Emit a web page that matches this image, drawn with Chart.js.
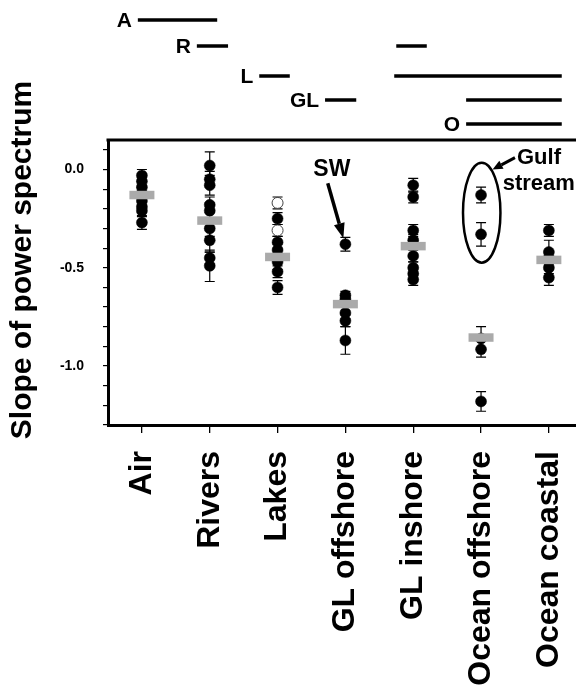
<!DOCTYPE html>
<html><head><meta charset="utf-8">
<script src="https://cdn.jsdelivr.net/npm/chart.js@4"></script>
<style>html,body{margin:0;padding:0;background:#fff;overflow:hidden}canvas{display:block}</style>
</head><body>
<canvas id="c" width="576" height="686"></canvas>
<script>
// ---------- data ----------
const categories = ['Air', 'Rivers', 'Lakes', 'GL offshore', 'GL inshore', 'Ocean offshore', 'Ocean coastal'];

const airSlopes = [-0.03, -0.06, -0.09, -0.12, -0.16, -0.19, -0.21, -0.27];
const airErrors = [0.03, 0.03, 0.03, 0.03, 0.03, 0.03, 0.03, 0.035];
const riverSlopes = [0.02, -0.05, -0.08, -0.18, -0.21, -0.30, -0.36, -0.45, -0.49];
const riverErrors = [0.07, 0.04, 0.05, 0.04, 0.04, 0.04, 0.06, 0.03, 0.08];
const lakeSlopes = [-0.25, -0.37, -0.41, -0.47, -0.52, -0.60];
const lakeErrors = [0.03, 0.03, 0.03, 0.04, 0.03, 0.035];
const lakeOpenSlopes = [-0.17, -0.31];
const lakeOpenErrors = [0.03, 0.03];
const glOffshoreSlopes = [-0.38, -0.64, -0.66, -0.73, -0.77, -0.87];
const glOffshoreErrors = [0.035, 0.02, 0.03, 0.03, 0.03, 0.07];
const glInshoreSlopes = [-0.08, -0.14, -0.31, -0.36, -0.44, -0.50, -0.53, -0.56];
const glInshoreErrors = [0.035, 0.03, 0.03, 0.03, 0.03, 0.03, 0.03, 0.03];
const oceanOffshoreSlopes = [-0.13, -0.33, -0.86, -0.915, -1.18];
const oceanOffshoreErrors = [0.04, 0.06, 0.06, 0.04, 0.05];
const oceanCoastalSlopes = [-0.31, -0.42, -0.45, -0.50, -0.55];
const oceanCoastalErrors = [0.03, 0.06, 0.03, 0.03, 0.04];
const meanSlopes = [-0.13, -0.26, -0.445, -0.685, -0.39, -0.855, -0.46];

const yTickValues = [-1.3, -1.2, -1.1, -1.0, -0.9, -0.8, -0.7, -0.6, -0.5, -0.4, -0.3, -0.2, -0.1, 0.0, 0.1];
const yTickLabels = {'0': '0.0', '-0.5': '-0.5', '-1': '-1.0'};

// top key: label and spans (in category units)
const keyLabels = ['A', 'R', 'L', 'GL', 'O'];
const keySpans = [
  [[-0.06, 1.11]],
  [[0.81, 1.27], [3.75, 4.20]],
  [[1.73, 2.18], [3.72, 6.19]],
  [[2.70, 3.16], [4.78, 6.19]],
  [[4.78, 6.19]]
];
const keyRowsPx = [20, 46, 76, 100, 124];

const yTitle = 'Slope of power spectrum';
const swLabel = 'SW';
const gulfLabel = ['Gulf', 'stream'];

// ---------- build ----------
const FONT = '"Liberation Sans", Arial, Helvetica, sans-serif';
const groups = [
  {vals: airSlopes, errs: airErrors, idx: 0, open: false},
  {vals: riverSlopes, errs: riverErrors, idx: 1, open: false},
  {vals: lakeSlopes, errs: lakeErrors, idx: 2, open: false},
  {vals: lakeOpenSlopes, errs: lakeOpenErrors, idx: 2, open: true},
  {vals: glOffshoreSlopes, errs: glOffshoreErrors, idx: 3, open: false},
  {vals: glInshoreSlopes, errs: glInshoreErrors, idx: 4, open: false},
  {vals: oceanOffshoreSlopes, errs: oceanOffshoreErrors, idx: 5, open: false},
  {vals: oceanCoastalSlopes, errs: oceanCoastalErrors, idx: 6, open: false}
];

const datasets = [{
  label: 'mean',
  data: meanSlopes.map((v, i) => ({x: i, y: v})),
  pointStyle: 'line',
  pointRadius: 12.5,
  pointBorderWidth: 8.5,
  pointBorderColor: '#aaaaaa',
  pointBackgroundColor: '#aaaaaa',
  order: 0
}];
groups.forEach(g => {
  datasets.push({
    label: categories[g.idx],
    data: g.vals.map(v => ({x: g.idx, y: v})),
    errors: g.errs,
    pointStyle: 'circle',
    pointRadius: 5.5,
    pointBackgroundColor: g.open ? '#ffffff' : '#000000',
    pointBorderColor: g.open ? '#444444' : '#000000',
    pointBorderWidth: g.open ? 1 : 0.5,
    order: 1
  });
});

function arrow(ctx, x1, y1, x2, y2, lw, hl, hw) {
  const a = Math.atan2(y2 - y1, x2 - x1);
  const bx = x2 - Math.cos(a) * hl, by = y2 - Math.sin(a) * hl;
  ctx.lineWidth = lw;
  ctx.beginPath(); ctx.moveTo(x1, y1); ctx.lineTo(bx, by); ctx.stroke();
  ctx.beginPath();
  ctx.moveTo(x2, y2);
  ctx.lineTo(bx + Math.sin(a) * hw / 2, by - Math.cos(a) * hw / 2);
  ctx.lineTo(bx - Math.sin(a) * hw / 2, by + Math.cos(a) * hw / 2);
  ctx.closePath(); ctx.fill();
}

const decor = {
  id: 'decor',
  beforeDatasetsDraw(chart) {
    const {ctx, scales: {x, y}} = chart;
    ctx.save();
    ctx.strokeStyle = '#000'; ctx.lineWidth = 1.2;
    chart.data.datasets.forEach(ds => {
      if (!ds.errors) return;
      ds.data.forEach((p, i) => {
        const e = ds.errors[i];
        const px = x.getPixelForValue(p.x);
        const t = y.getPixelForValue(p.y + e), b = y.getPixelForValue(p.y - e);
        ctx.beginPath();
        ctx.moveTo(px, t); ctx.lineTo(px, b);
        ctx.moveTo(px - 5, t); ctx.lineTo(px + 5, t);
        ctx.moveTo(px - 5, b); ctx.lineTo(px + 5, b);
        ctx.stroke();
      });
    });
    ctx.restore();
  },
  afterDraw(chart) {
    const {ctx, chartArea: ca, scales: {x, y}} = chart;
    ctx.save();
    ctx.strokeStyle = '#000'; ctx.fillStyle = '#000';
    // top frame
    ctx.lineWidth = 3;
    ctx.beginPath(); ctx.moveTo(ca.left - 1.5, ca.top); ctx.lineTo(ca.right, ca.top); ctx.stroke();

    // key rows
    ctx.font = 'bold 21px ' + FONT;
    ctx.textAlign = 'right'; ctx.textBaseline = 'middle';
    keyLabels.forEach((lab, r) => {
      const yy = keyRowsPx[r];
      const spans = keySpans[r];
      ctx.fillText(lab, x.getPixelForValue(spans[0][0]) - 6, yy + 1);
      ctx.lineWidth = 3.5;
      spans.forEach(s => {
        ctx.beginPath();
        ctx.moveTo(x.getPixelForValue(s[0]), yy);
        ctx.lineTo(x.getPixelForValue(s[1]), yy);
        ctx.stroke();
      });
    });

    // y title
    ctx.save();
    ctx.translate(23, 260);
    ctx.rotate(-Math.PI / 2);
    ctx.font = 'bold 30px ' + FONT;
    ctx.textAlign = 'center'; ctx.textBaseline = 'middle';
    ctx.fillText(yTitle, 0, 0);
    ctx.restore();

    // SW annotation
    ctx.font = 'bold 23px ' + FONT;
    ctx.textAlign = 'center'; ctx.textBaseline = 'middle';
    ctx.fillText(swLabel, x.getPixelForValue(2.80), y.getPixelForValue(0.0));
    arrow(ctx, x.getPixelForValue(2.74), y.getPixelForValue(-0.07),
          x.getPixelForValue(2.97), y.getPixelForValue(-0.35), 3.5, 15, 11);

    // Gulf stream ellipse
    const cx = x.getPixelForValue(5.01), cy = y.getPixelForValue(-0.22);
    const rx = x.getPixelForValue(5.01 + 0.276) - cx;
    const ry = y.getPixelForValue(-0.22 - 0.254) - cy;
    ctx.lineWidth = 2.5;
    ctx.beginPath(); ctx.ellipse(cx, cy, Math.abs(rx), Math.abs(ry), 0, 0, Math.PI * 2); ctx.stroke();
    ctx.font = 'bold 22px ' + FONT;
    ctx.textAlign = 'left';
    ctx.fillText(gulfLabel[0], x.getPixelForValue(5.53), y.getPixelForValue(0.06));
    ctx.fillText(gulfLabel[1], x.getPixelForValue(5.32), y.getPixelForValue(-0.075));
    arrow(ctx, x.getPixelForValue(5.50), y.getPixelForValue(0.06),
          x.getPixelForValue(5.17), y.getPixelForValue(0.0), 3, 10, 9);
    ctx.restore();
  }
};

new Chart(document.getElementById('c'), {
  type: 'scatter',
  data: {datasets},
  plugins: [decor],
  options: {
    responsive: false,
    animation: false,
    devicePixelRatio: 1,
    events: [],
    layout: {autoPadding: false, padding: {top: 140, left: 0, right: 0, bottom: 0}},
    plugins: {legend: {display: false}, tooltip: {enabled: false}},
    scales: {
      x: {
        type: 'linear',
        min: -0.5, max: 6.4,
        afterBuildTicks: ax => { ax.ticks = categories.map((c, i) => ({value: i})); },
        afterFit: ax => { ax.height = 261; ax.paddingLeft = 0; ax.paddingRight = 0; },
        ticks: {
          callback: v => categories[v] ?? '',
          autoSkip: false, maxRotation: 90, minRotation: 90,
          color: '#000', padding: 18,
          font: {family: FONT, size: 32, weight: 'bold'}
        },
        grid: {drawOnChartArea: false, drawTicks: true, tickLength: 8, color: '#000', lineWidth: 1.3},
        border: {display: true, color: '#000', width: 3}
      },
      y: {
        min: -1.3, max: 0.15,
        afterBuildTicks: ax => { ax.ticks = yTickValues.map(v => ({value: v})); },
        afterFit: ax => { ax.width = 108; ax.paddingTop = 0; ax.paddingBottom = 0; },
        ticks: {
          callback: v => { const k = String(Math.round(v * 10) / 10); return yTickLabels[k] ?? ''; },
          color: '#000', padding: 19,
          font: {family: FONT, size: 14, weight: 'bold'}
        },
        grid: {drawOnChartArea: false, drawTicks: true, tickLength: 5, color: '#000', lineWidth: 1.2},
        border: {display: true, color: '#000', width: 3}
      }
    }
  }
});
</script>
</body></html>
